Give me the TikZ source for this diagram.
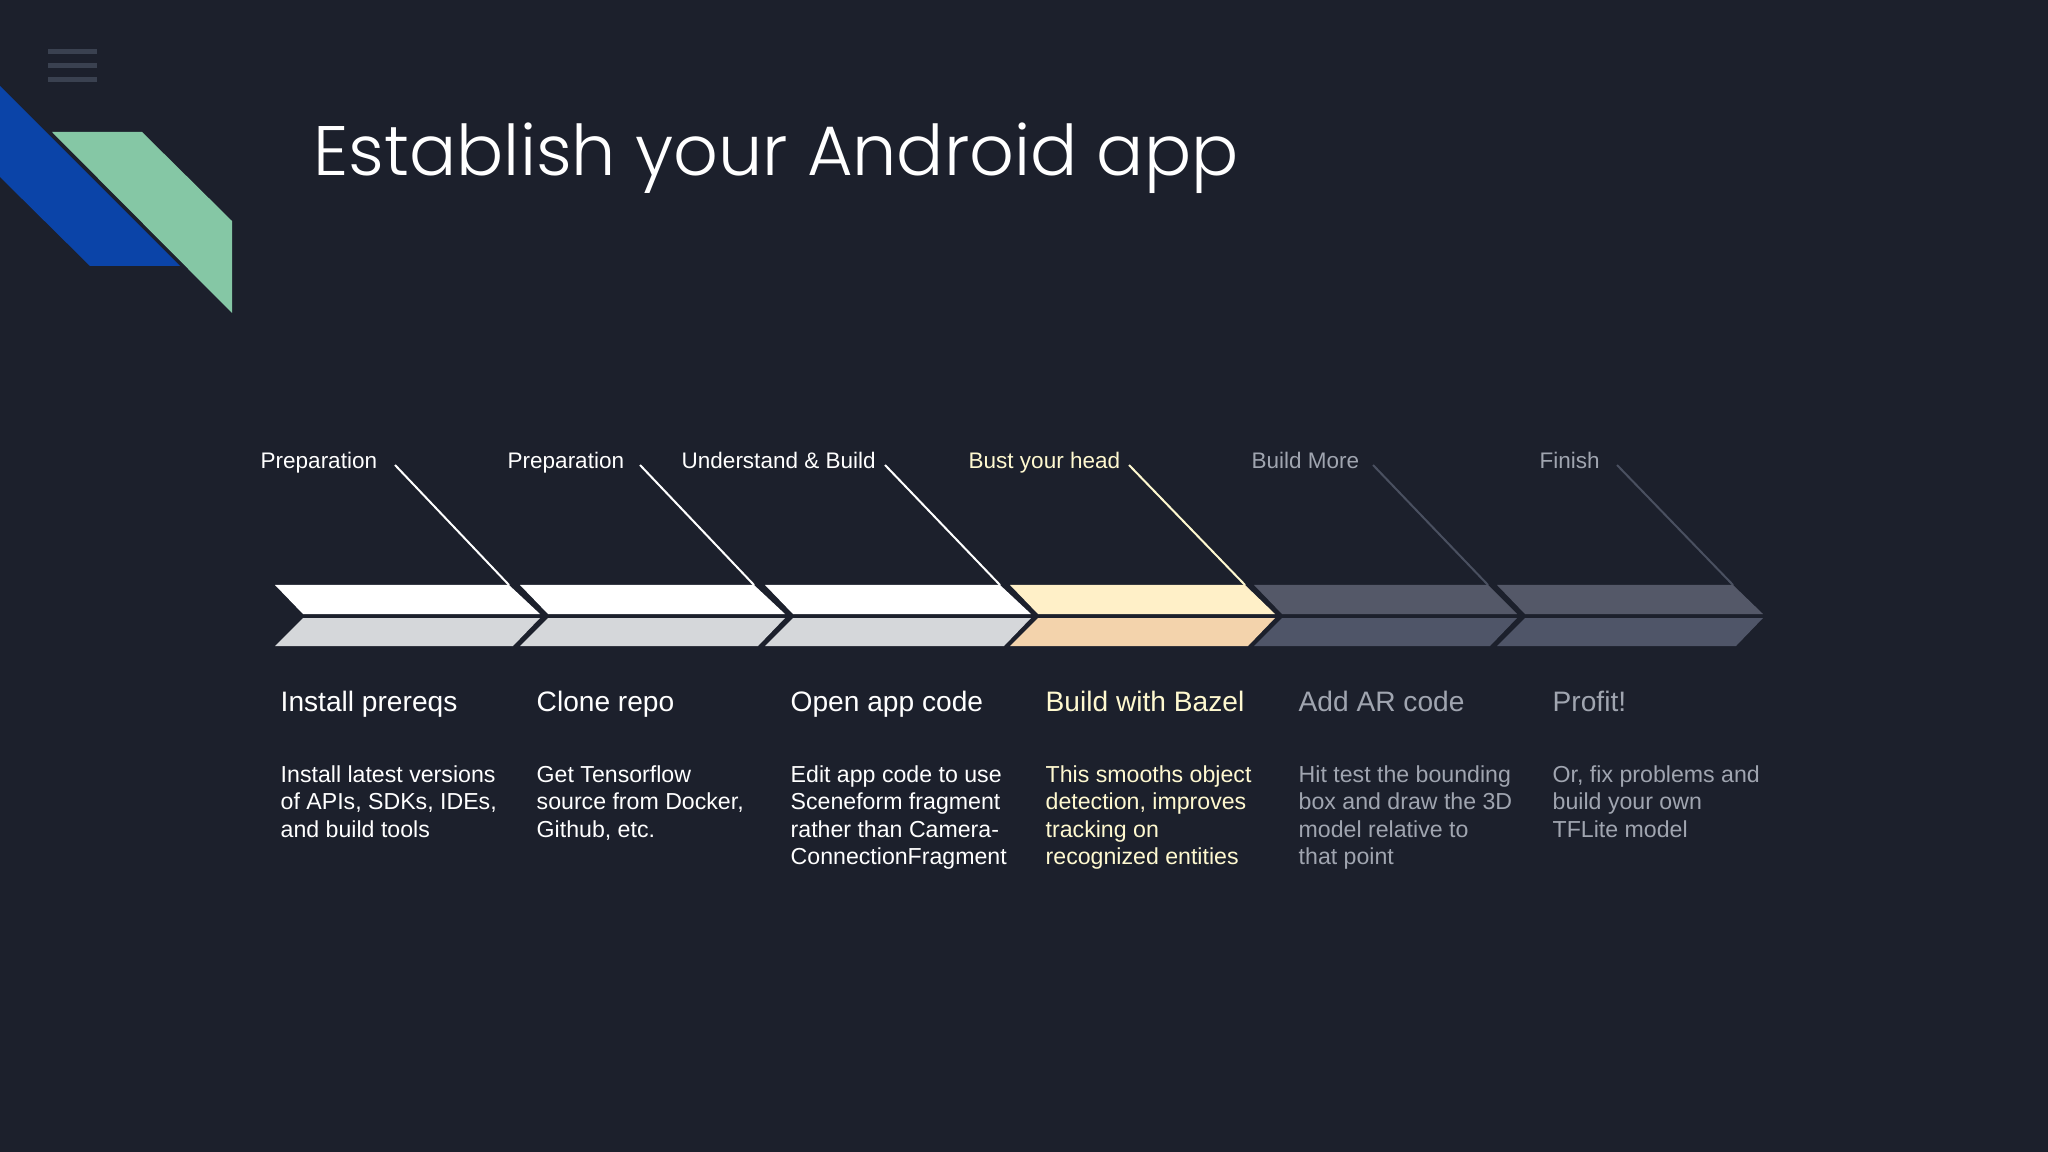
\documentclass[tikz,border=0pt]{standalone}
\usepackage{fontspec}
\setmainfont{Liberation Sans}
\newfontfamily\titlefont[UprightFont=* Light]{Poppins}
\usepackage{tikz}
\definecolor{bgdark}{HTML}{1C202C}
\definecolor{blueband}{HTML}{0B44A8}
\definecolor{greenband}{HTML}{85C7A5}
\definecolor{menugray}{HTML}{3A4150}
\definecolor{palegray}{HTML}{D5D7DA}
\definecolor{creamtop}{HTML}{FFF0C8}
\definecolor{peachlow}{HTML}{F3D3AC}
\definecolor{dimtop}{HTML}{545868}
\definecolor{dimlow}{HTML}{4F5568}
\definecolor{dimline}{HTML}{4A5060}
\definecolor{dimtext}{HTML}{A0A5B0}
\definecolor{creamtext}{HTML}{FFF9D0}

\begin{document}
\begin{tikzpicture}[x=0.01cm,y=-0.01cm]
\tikzstyle{menu} = [menugray,line width=0.05cm]
\tikzstyle{lab} = [anchor=base west,inner sep=0pt,font=\fontsize{6.4}{7.8}\selectfont]
\tikzstyle{head} = [anchor=base west,inner sep=0pt,font=\fontsize{8.0}{9.8}\selectfont]
\tikzstyle{body} = [anchor=north west,inner sep=0pt,align=left,font=\fontsize{6.58}{7.8}\selectfont]
\tikzstyle{lead} = [line width=0.02cm]
\fill[bgdark] (0,0) rectangle (2048,1152);
\useasboundingbox (0,0) rectangle (2048,1152);
% corner shapes
\draw[menu] (48,52) -- (97,52);
\draw[menu] (48,66) -- (97,66);
\draw[menu] (48,80) -- (97,80);
\fill[blueband] (0,86) -- (180,266) -- (90,266) -- (0,177) -- cycle;
\fill[greenband] (52,132) -- (142,132) -- (232,221) -- (232,313) -- cycle;
\node[anchor=base west,inner sep=0pt,white,font=\fontsize{19.9}{24}\titlefont] (title) at (313,176) {Establish your Android app};
% top labels
\node[lab,white] (p1) at (260,468.5) {Preparation};
\node[lab,white] (p2) at (507,468.5) {Preparation};
\node[lab,white] (p3) at (681,468.5) {Understand \& Build};
\node[lab,creamtext] (p4) at (968,468.5) {Bust your head};
\node[lab,dimtext] (p5) at (1251,468.5) {Build More};
\node[lab,dimtext] (p6) at (1539,468.5) {Finish};
% leader lines
\coordinate (s1) at (395,465); \coordinate (e1) at (509,585);
\coordinate (s2) at (640,465); \coordinate (e2) at (754,585);
\coordinate (s3) at (885,465); \coordinate (e3) at (1000,585);
\coordinate (s4) at (1129,465); \coordinate (e4) at (1245,585);
\coordinate (s5) at (1373,465); \coordinate (e5) at (1488,585);
\coordinate (s6) at (1617,465); \coordinate (e6) at (1733,585);
\draw[lead,white] (s1) -- (e1);
\draw[lead,white] (s2) -- (e2);
\draw[lead,white] (s3) -- (e3);
\draw[lead,creamtext] (s4) -- (e4);
\draw[lead,dimline] (s5) -- (e5);
\draw[lead,dimline] (s6) -- (e6);
% chevrons, top halves
\fill[white] (275,585) -- (509,585) -- (540,614) -- (303,614) -- cycle;
\fill[white] (520,585) -- (754,585) -- (785,614) -- (548,614) -- cycle;
\fill[white] (765,585) -- (1000,585) -- (1031,614) -- (793,614) -- cycle;
\fill[creamtop] (1010,585) -- (1245,585) -- (1275,614) -- (1038,614) -- cycle;
\fill[dimtop] (1254,585) -- (1488,585) -- (1517,614) -- (1282,614) -- cycle;
\fill[dimtop] (1497,585) -- (1733,585) -- (1763,614) -- (1525,614) -- cycle;
% chevrons, low halves
\fill[palegray] (275,646) -- (513,646) -- (540,618) -- (303,618) -- cycle;
\fill[palegray] (520,646) -- (758,646) -- (785,618) -- (548,618) -- cycle;
\fill[palegray] (765,646) -- (1004,646) -- (1031,618) -- (793,618) -- cycle;
\fill[peachlow] (1010,646) -- (1248,646) -- (1275,618) -- (1038,618) -- cycle;
\fill[dimlow] (1254,646) -- (1490,646) -- (1517,618) -- (1282,618) -- cycle;
\fill[dimlow] (1497,646) -- (1736,646) -- (1763,618) -- (1525,618) -- cycle;
% step titles
\node[head,white] (h1) at (280,711) {Install prereqs};
\node[head,white] (h2) at (536,711) {Clone repo};
\node[head,white] (h3) at (790,711) {Open app code};
\node[head,creamtext] (h4) at (1045,711) {Build with Bazel};
\node[head,dimtext] (h5) at (1298,711) {Add AR code};
\node[head,dimtext] (h6) at (1552,711) {Profit!};
% step notes
\node[body,white] (b1) at (280,765) {Install latest versions\\of APIs, SDKs, IDEs,\\and build tools};
\node[body,white] (b2) at (536,765) {Get Tensorflow\\source from Docker,\\Github, etc.};
\node[body,white] (b3) at (790,765) {Edit app code to use\\Sceneform fragment\\rather than Camera-\\ConnectionFragment};
\node[body,creamtext] (b4) at (1045,765) {This smooths object\\detection, improves\\tracking on\\recognized entities};
\node[body,dimtext] (b5) at (1298,765) {Hit test the bounding\\box and draw the 3D\\model relative to\\that point};
\node[body,dimtext] (b6) at (1552,765) {Or, fix problems and\\build your own\\TFLite model};
\end{tikzpicture}
\end{document}
